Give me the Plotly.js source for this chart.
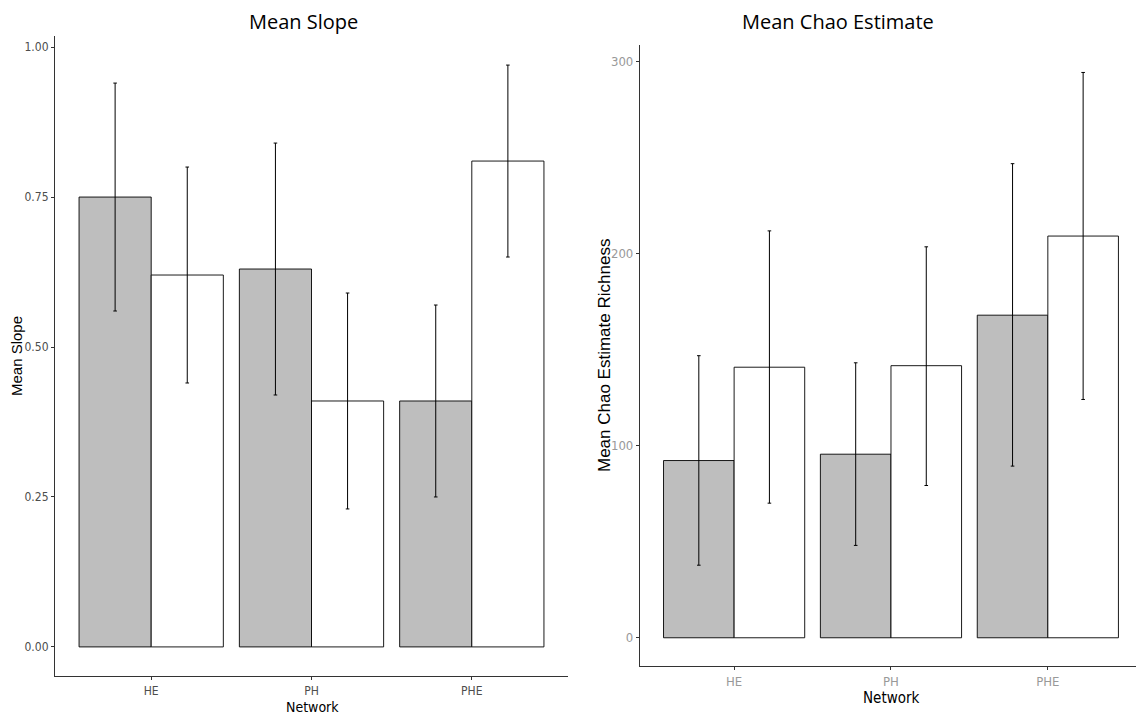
<!DOCTYPE html>
<html>
<head>
<meta charset="utf-8">
<script src="https://cdn.plot.ly/plotly-3.0.1.min.js"></script>
<style>html,body{margin:0;padding:0;background:#fff;}#chart{width:1136px;height:719px;}</style>
</head>
<body>
<div id="chart"></div>
<script>
// ---- data ----
const networks = ['HE', 'PH', 'PHE'];

const slopeGrey      = [0.75, 0.63, 0.41];
const slopeGreyLow   = [0.56, 0.42, 0.25];
const slopeGreyHigh  = [0.94, 0.84, 0.57];
const slopeWhite     = [0.62, 0.41, 0.81];
const slopeWhiteLow  = [0.44, 0.23, 0.65];
const slopeWhiteHigh = [0.80, 0.59, 0.97];

const chaoGrey      = [92.3, 95.6, 168.0];
const chaoGreyLow   = [37.8, 48.1, 89.4];
const chaoGreyHigh  = [146.9, 143.2, 246.9];
const chaoWhite     = [140.9, 141.7, 209.2];
const chaoWhiteLow  = [70.1, 79.3, 124.1];
const chaoWhiteHigh = [211.9, 203.6, 294.4];

const slopeTicks = [0, 0.25, 0.5, 0.75, 1.0];
const chaoTicks  = [0, 100, 200, 300];

// ---- helpers ----
const W = 1136, H = 719;
const px = v => v / W;
const py = v => 1 - v / H;
const up = (m, hi) => m.map((v, i) => hi[i] - v);
const down = (m, lo) => m.map((v, i) => v - lo[i]);

function barTrace(y, lo, hi, fill, xa, ya) {
  return {
    type: 'bar', x: networks, y: y, xaxis: xa, yaxis: ya,
    marker: {color: fill, line: {color: '#000', width: 0.9}},
    error_y: {type: 'data', symmetric: false, array: up(y, hi), arrayminus: down(y, lo),
              color: '#000', thickness: 1, width: 1.8},
    hoverinfo: 'skip', showlegend: false
  };
}

const data = [
  barTrace(slopeGrey, slopeGreyLow, slopeGreyHigh, '#bebebe', 'x', 'y'),
  barTrace(slopeWhite, slopeWhiteLow, slopeWhiteHigh, '#ffffff', 'x', 'y'),
  barTrace(chaoGrey, chaoGreyLow, chaoGreyHigh, '#bebebe', 'x2', 'y2'),
  barTrace(chaoWhite, chaoWhiteLow, chaoWhiteHigh, '#ffffff', 'x2', 'y2')
];

const narrow = '"Liberation Sans Narrow", "DejaVu Sans Condensed", "Liberation Sans", sans-serif';
const sans = '"Liberation Sans", Arial, sans-serif';
const titleFont = '"Open Sans", "Noto Sans", sans-serif';

const axisCommon = {
  showline: true, linecolor: '#333', linewidth: 1.1,
  showgrid: false, zeroline: false,
  ticks: 'outside', ticklen: 3, tickcolor: '#333', tickwidth: 1
};

const layout = {
  width: W, height: H,
  margin: {l: 0, r: 0, t: 0, b: 0},
  paper_bgcolor: '#fff', plot_bgcolor: 'rgba(0,0,0,0)',
  barmode: 'group', bargap: 0.1, bargroupgap: 0,
  showlegend: false,
  xaxis: Object.assign({}, axisCommon, {
    domain: [px(55), px(568)], range: [-0.6, 2.6], anchor: 'y',
    type: 'category', tickfont: {family: narrow, size: 12, color: '#4d4d4d'}
  }),
  yaxis: Object.assign({}, axisCommon, {
    domain: [py(676), py(36)], range: [-0.0485, 1.0185], anchor: 'x',
    tickvals: slopeTicks, tickformat: '.2f',
    tickfont: {family: narrow, size: 12, color: '#4d4d4d'}
  }),
  xaxis2: Object.assign({}, axisCommon, {
    domain: [px(640), 1], range: [-0.6, 2.562], anchor: 'y2',
    type: 'category', tickfont: {family: narrow, size: 13, color: '#999'}
  }),
  yaxis2: Object.assign({}, axisCommon, {
    domain: [py(666), py(45)], range: [-14.7, 308.7], anchor: 'x2',
    tickvals: chaoTicks, tickformat: 'd',
    tickfont: {family: narrow, size: 13, color: '#999'}
  }),
  annotations: [
    {text: 'Mean Slope', xref: 'paper', yref: 'paper', x: px(303), y: py(21),
     xanchor: 'center', yanchor: 'middle', showarrow: false,
     font: {family: titleFont, size: 20, color: '#000'}},
    {text: 'Mean Chao Estimate', xref: 'paper', yref: 'paper', x: px(838), y: py(21),
     xanchor: 'center', yanchor: 'middle', showarrow: false,
     font: {family: titleFont, size: 20, color: '#000'}},
    {text: 'Network', xref: 'paper', yref: 'paper', x: px(312), y: py(707),
     xanchor: 'center', yanchor: 'middle', showarrow: false,
     font: {family: narrow, size: 14, color: '#000'}},
    {text: 'Network', xref: 'paper', yref: 'paper', x: px(891), y: py(698),
     xanchor: 'center', yanchor: 'middle', showarrow: false,
     font: {family: narrow, size: 15, color: '#000'}},
    {text: 'Mean Slope', xref: 'paper', yref: 'paper', x: px(17), y: py(356),
     xanchor: 'center', yanchor: 'middle', showarrow: false, textangle: -90,
     font: {family: sans, size: 15, color: '#000'}},
    {text: 'Mean Chao Estimate Richness', xref: 'paper', yref: 'paper', x: px(605), y: py(356),
     xanchor: 'center', yanchor: 'middle', showarrow: false, textangle: -90,
     font: {family: sans, size: 17, color: '#000'}}
  ]
};

Plotly.newPlot('chart', data, layout, {staticPlot: true, displayModeBar: false});
</script>
</body>
</html>
